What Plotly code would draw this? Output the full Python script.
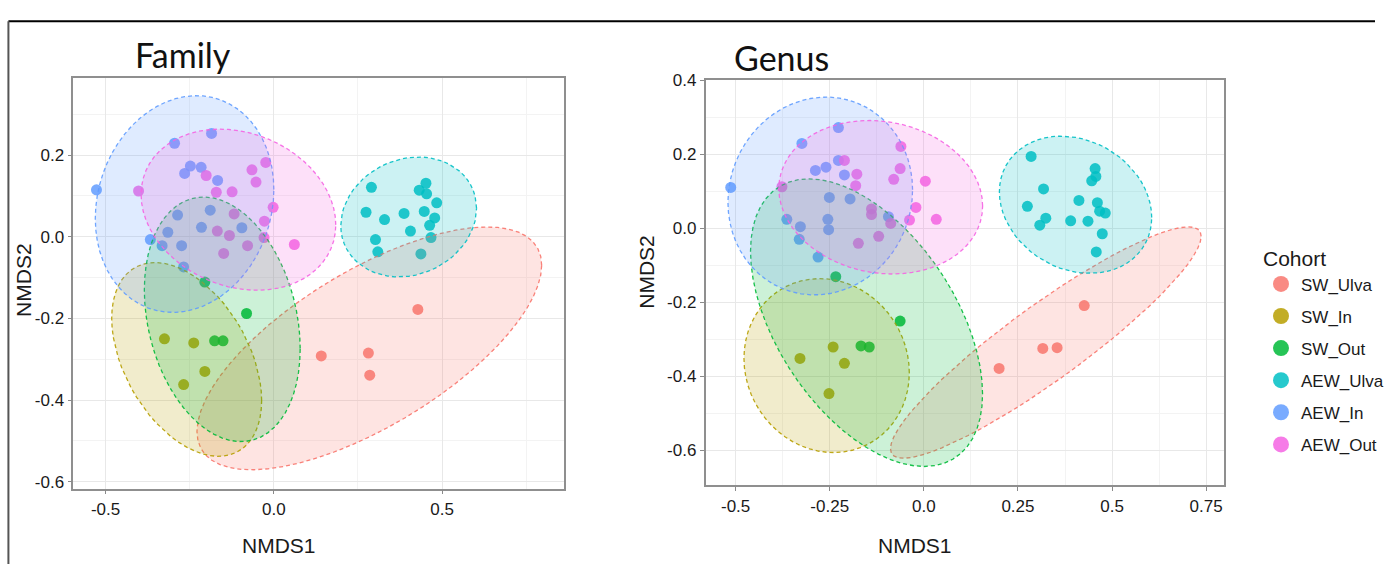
import numpy as np
import plotly.graph_objects as go

W, H = 1389, 567

COHORTS = ["SW_Ulva", "SW_In", "SW_Out", "AEW_Ulva", "AEW_In", "AEW_Out"]
COLORS = ["#F8766D", "#B79F00", "#00BA38", "#00BFC4", "#619CFF", "#F564E3"]

# ---------------- Family panel (NMDS1, NMDS2) per cohort ----------------
fam_x = [
    [0.428, 0.141, 0.281, 0.285],
    [-0.325, -0.238, -0.205, -0.268],
    [-0.205, -0.081, -0.176, -0.151],
    [0.290, 0.274, 0.329, 0.302, 0.309, 0.387, 0.406, 0.432, 0.452, 0.454, 0.484, 0.447, 0.478, 0.463, 0.467, 0.437],
    [-0.527, -0.295, -0.185, -0.265, -0.248, -0.216, -0.167, -0.286, -0.189, -0.215, -0.315, -0.095, -0.367, -0.332, -0.274, -0.268],
    [-0.402, -0.201, -0.171, -0.124, -0.065, -0.024, -0.053, -0.002, -0.028, -0.118, -0.168, -0.132, -0.078, -0.149, 0.061, -0.029],
]
fam_y = [
    [-0.178, -0.292, -0.285, -0.339],
    [-0.250, -0.260, -0.330, -0.362],
    [-0.111, -0.188, -0.255, -0.255],
    [0.121, 0.060, 0.042, -0.007, -0.037, 0.057, 0.014, 0.114, 0.131, 0.105, 0.083, 0.062, 0.046, 0.028, -0.002, -0.042],
    [0.115, 0.229, 0.253, 0.155, 0.173, 0.170, 0.138, 0.053, 0.065, 0.023, 0.011, 0.022, -0.007, -0.022, -0.022, -0.074],
    [0.112, 0.150, 0.109, 0.110, 0.164, 0.182, 0.134, 0.072, 0.038, 0.056, 0.014, 0.003, -0.022, -0.041, -0.019, -0.002],
]

# ---------------- Genus panel (NMDS1, NMDS2) per cohort ----------------
gen_x = [
    [0.426, 0.316, 0.354, 0.200],
    [-0.329, -0.241, -0.211, -0.252],
    [-0.234, -0.063, -0.167, -0.145],
    [0.285, 0.318, 0.275, 0.324, 0.308, 0.390, 0.412, 0.436, 0.455, 0.457, 0.446, 0.461, 0.467, 0.482, 0.474, 0.458],
    [-0.513, -0.324, -0.227, -0.288, -0.260, -0.227, -0.211, -0.251, -0.196, -0.364, -0.255, -0.253, -0.328, -0.331, -0.281, -0.094],
    [-0.377, -0.211, -0.178, -0.181, -0.061, -0.063, -0.080, 0.004, -0.139, -0.139, -0.021, -0.038, 0.033, -0.088, -0.120, -0.174],
]
gen_y = [
    [-0.209, -0.325, -0.323, -0.379],
    [-0.352, -0.321, -0.365, -0.447],
    [-0.131, -0.251, -0.318, -0.321],
    [0.194, 0.106, 0.059, 0.027, 0.008, 0.020, 0.075, 0.019, 0.161, 0.140, 0.128, 0.069, 0.046, 0.041, -0.015, -0.064],
    [0.110, 0.229, 0.272, 0.156, 0.165, 0.183, 0.144, 0.083, 0.079, 0.024, 0.024, -0.004, 0.004, -0.030, -0.078, 0.031],
    [0.112, 0.183, 0.146, 0.115, 0.221, 0.161, 0.132, 0.127, 0.052, 0.037, 0.056, 0.022, 0.024, 0.013, -0.022, -0.041],
]

fam_xticks = [-0.5, 0.0, 0.5]
fam_xlabels = ["-0.5", "0.0", "0.5"]
fam_yticks = [-0.6, -0.4, -0.2, 0.0, 0.2]
fam_ylabels = ["-0.6", "-0.4", "-0.2", "0.0", "0.2"]
gen_xticks = [-0.5, -0.25, 0.0, 0.25, 0.5, 0.75]
gen_xlabels = ["-0.5", "-0.25", "0.0", "0.25", "0.5", "0.75"]
gen_yticks = [-0.6, -0.4, -0.2, 0.0, 0.2, 0.4]
gen_ylabels = ["-0.6", "-0.4", "-0.2", "0.0", "0.2", "0.4"]

LEVEL = 0.95


def rgba(hexc, a):
    h = hexc.lstrip("#")
    r, g, b = int(h[0:2], 16), int(h[2:4], 16), int(h[4:6], 16)
    return f"rgba({r},{g},{b},{a})"


def conf_ellipse(x, y, level=LEVEL, segments=60):
    """Same construction as ggplot2::stat_ellipse (multivariate t / F based)."""
    x = np.asarray(x, float)
    y = np.asarray(y, float)
    n = len(x)
    d2 = n - 1
    qf = (d2 / 2.0) * ((1 - level) ** (-2.0 / d2) - 1)  # F(2, d2) quantile
    radius = np.sqrt(2 * qf)
    S = np.cov(np.vstack([x, y]))
    U = np.linalg.cholesky(S).T
    ang = np.linspace(0, 2 * np.pi, segments + 1)
    unit = np.column_stack([np.cos(ang), np.sin(ang)])
    pts = np.array([x.mean(), y.mean()]) + radius * (unit @ U)
    return pts[:, 0], pts[:, 1]


fig = go.Figure()

panels = [(fam_x, fam_y, "x", "y"), (gen_x, gen_y, "x2", "y2")]
for px, py, xa, ya in panels:
    for i, name in enumerate(COHORTS):
        fig.add_trace(go.Scatter(
            x=px[i], y=py[i], mode="markers", name=name,
            marker=dict(color=COLORS[i], size=11, opacity=0.85, line=dict(width=0)),
            showlegend=False, xaxis=xa, yaxis=ya, hoverinfo="x+y+name"))
for px, py, xa, ya in panels:
    for i, name in enumerate(COHORTS):
        ex, ey = conf_ellipse(px[i], py[i])
        fig.add_trace(go.Scatter(
            x=ex, y=ey, mode="lines", fill="toself",
            fillcolor=rgba(COLORS[i], 0.2),
            line=dict(color=rgba(COLORS[i], 0.9), width=1.3, dash="4px,3px"),
            showlegend=False, hoverinfo="skip", xaxis=xa, yaxis=ya))

# legend entries
for i, name in enumerate(COHORTS):
    fig.add_trace(go.Scatter(
        x=[None], y=[None], mode="markers", name=name, legendgroup=name,
        marker=dict(color=COLORS[i], size=16, opacity=0.85),
        showlegend=True, xaxis="x2", yaxis="y2"))

TICKFONT = dict(family="Liberation Sans, Arial, sans-serif", size=17, color="#1a1a1a")


def axis(domain, rng, tickvals, ticktext, anchor, minor_dtick):
    return dict(
        domain=domain, range=rng, anchor=anchor,
        tickmode="array", tickvals=tickvals, ticktext=ticktext,
        ticks="outside", ticklen=4, tickwidth=1, tickcolor="#8a8a8a",
        tickfont=TICKFONT,
        showline=True, linecolor="#8f8f8f", linewidth=1.5, mirror=True,
        showgrid=True, gridcolor="#e8e8e8", gridwidth=1, zeroline=False,
        minor=dict(tick0=0, dtick=minor_dtick, showgrid=True, gridcolor="#f3f3f3", gridwidth=1, ticks=""),
    )


fig.update_layout(
    width=W, height=H,
    margin=dict(l=0, r=0, t=0, b=0),
    paper_bgcolor="white", plot_bgcolor="white",
    xaxis=axis([74 / W, 570 / W], [-0.596, 0.863], fam_xticks, fam_xlabels, "y", 0.25),
    yaxis=axis([1 - 490 / H, 1 - 70 / H], [-0.617, 0.39], fam_yticks, fam_ylabels, "x", 0.1),
    xaxis2=axis([712.7 / W, 1236.7 / W], [-0.58, 0.798], gen_xticks, gen_xlabels, "y2", 0.125),
    yaxis2=axis([1 - 486.7 / H, 1 - 72.7 / H], [-0.695, 0.4], gen_yticks, gen_ylabels, "x2", 0.1),
    legend=dict(
        title=dict(text="Cohort", font=dict(family="Liberation Sans, Arial, sans-serif", size=21, color="#1a1a1a")),
        font=dict(family="Liberation Sans, Arial, sans-serif", size=17, color="#1a1a1a"),
        x=1274 / W, y=1 - 235 / H, xanchor="left", yanchor="top",
        tracegroupgap=7, itemsizing="trace", bgcolor="rgba(0,0,0,0)",
    ),
)

AX_FONT = dict(family="Liberation Sans, Arial, sans-serif", size=21, color="#1a1a1a")
TITLE_FONT = dict(family="Lato, Open Sans, sans-serif", size=34, color="#111111")
annots = [
    dict(text="NMDS1", x=282 / W, y=1 - 548 / H, font=AX_FONT),
    dict(text="NMDS1", x=924 / W, y=1 - 548 / H, font=AX_FONT),
    dict(text="NMDS2", x=23 / W, y=1 - 277 / H, font=AX_FONT, textangle=-90),
    dict(text="NMDS2", x=653 / W, y=1 - 268 / H, font=AX_FONT, textangle=-90),
    dict(text="Family", x=185 / W, y=1 - 46 / H, font=TITLE_FONT),
    dict(text="Genus", x=789 / W, y=1 - 50 / H, font=TITLE_FONT),
]
for a in annots:
    fig.add_annotation(xref="paper", yref="paper", showarrow=False,
                       xanchor="center", yanchor="middle", **a)

# outer frame of the figure image
fig.add_shape(type="line", xref="paper", yref="paper",
              x0=8.5 / W, x1=1.0, y0=1 - 12.5 / H, y1=1 - 12.5 / H,
              line=dict(color="black", width=2))
fig.add_shape(type="line", xref="paper", yref="paper",
              x0=8.5 / W, x1=8.5 / W, y0=0, y1=1 - 12.5 / H,
              line=dict(color="#555555", width=2))

fig.write_html(
    "out.html",
    config={"displayModeBar": False},
    post_script="document.body.style.margin='0';document.body.style.overflow='hidden';",
)
